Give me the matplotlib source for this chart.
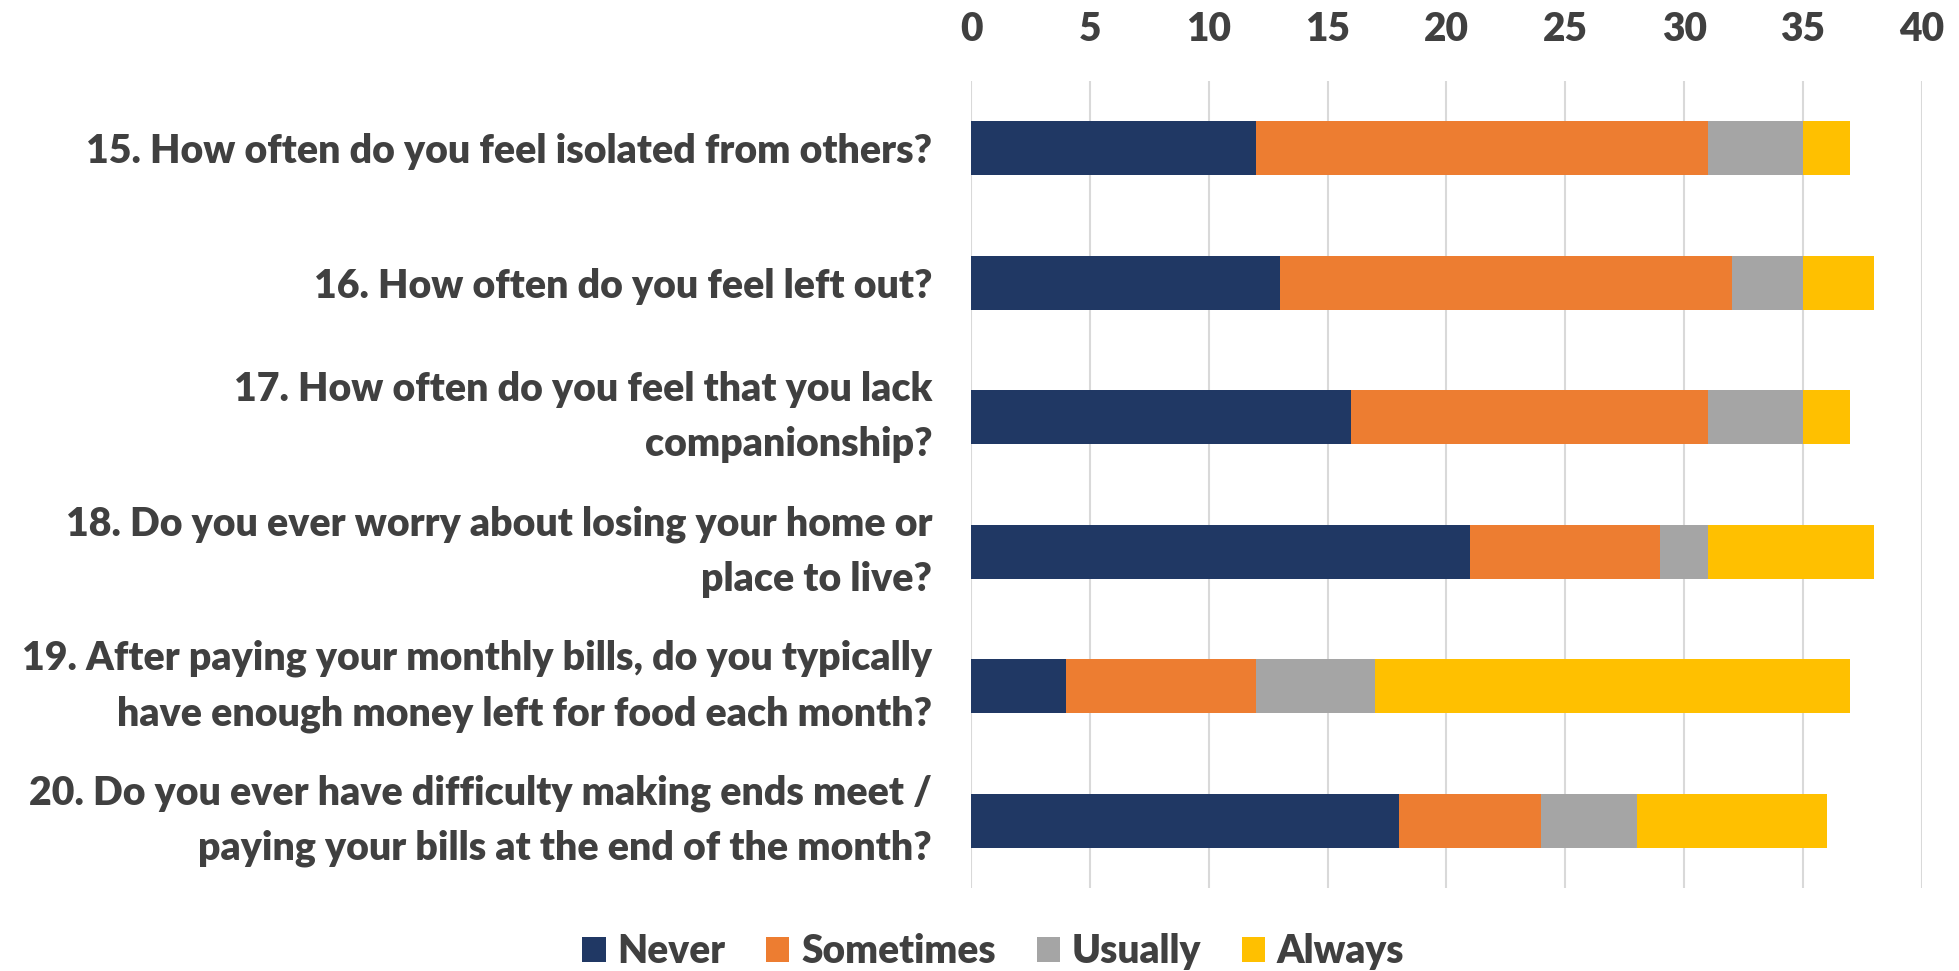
import matplotlib
matplotlib.use("Agg")
import matplotlib.pyplot as plt
from matplotlib.patches import Patch

questions = [
    "15. How often do you feel isolated from others?",
    "16. How often do you feel left out?",
    "17. How often do you feel that you lack\ncompanionship?",
    "18. Do you ever worry about losing your home or\nplace to live?",
    "19. After paying your monthly bills, do you typically\nhave enough money left for food each month?",
    "20. Do you ever have difficulty making ends meet /\npaying your bills at the end of the month?",
]
responses = ["Never", "Sometimes", "Usually", "Always"]
never = [12, 13, 16, 21, 4, 18]
sometimes = [19, 19, 15, 8, 8, 6]
usually = [4, 3, 4, 2, 5, 4]
always = [2, 3, 2, 7, 20, 8]
x_ticks = [0, 5, 10, 15, 20, 25, 30, 35, 40]

colors = ["#203864", "#ED7D31", "#A5A5A5", "#FFC000"]
text_color = "#404040"
font = "Lato"
weight = "heavy"

fig = plt.figure(figsize=(19.59, 9.71), dpi=100)
ax = fig.add_axes([0.4957, 0.0855, 0.4853, 0.8311])

ypos = list(range(len(questions)))
left = [0] * len(questions)
for series, color in zip([never, sometimes, usually, always], colors):
    ax.barh(ypos, series, left=left, height=0.4, color=color, zorder=3)
    left = [a + b for a, b in zip(left, series)]

ax.set_xlim(0, 40)
ax.set_ylim(len(questions) - 0.5, -0.5)
ax.set_xticks(x_ticks)
ax.set_yticks(ypos)
ax.set_yticklabels(questions, ha="right", multialignment="right")
ax.xaxis.tick_top()
ax.grid(axis="x", color="#D9D9D9", linewidth=1.5, zorder=0)
for s in ax.spines.values():
    s.set_visible(False)
ax.tick_params(axis="x", length=0, pad=24, labelsize=28, labelcolor=text_color)
ax.tick_params(axis="y", length=0, pad=28, labelsize=28.3, labelcolor=text_color)
for lbl in ax.get_xticklabels() + ax.get_yticklabels():
    lbl.set_fontfamily(font)
    lbl.set_fontweight(weight)
for lbl in ax.get_yticklabels():
    lbl.set_linespacing(1.6)
    if "\n" in lbl.get_text():
        lbl.set_verticalalignment("center")

handles = [Patch(facecolor=c, label=r) for c, r in zip(colors, responses)]
fig.legend(handles=handles, loc="center", bbox_to_anchor=(0.507, 0.02), ncol=4,
           frameon=False, handlelength=0.6, handleheight=0.6, handletextpad=0.3,
           columnspacing=1.05,
           prop={"family": font, "weight": weight, "size": 28}, labelcolor=text_color)

fig.savefig("out.png", dpi=100, facecolor="white")
